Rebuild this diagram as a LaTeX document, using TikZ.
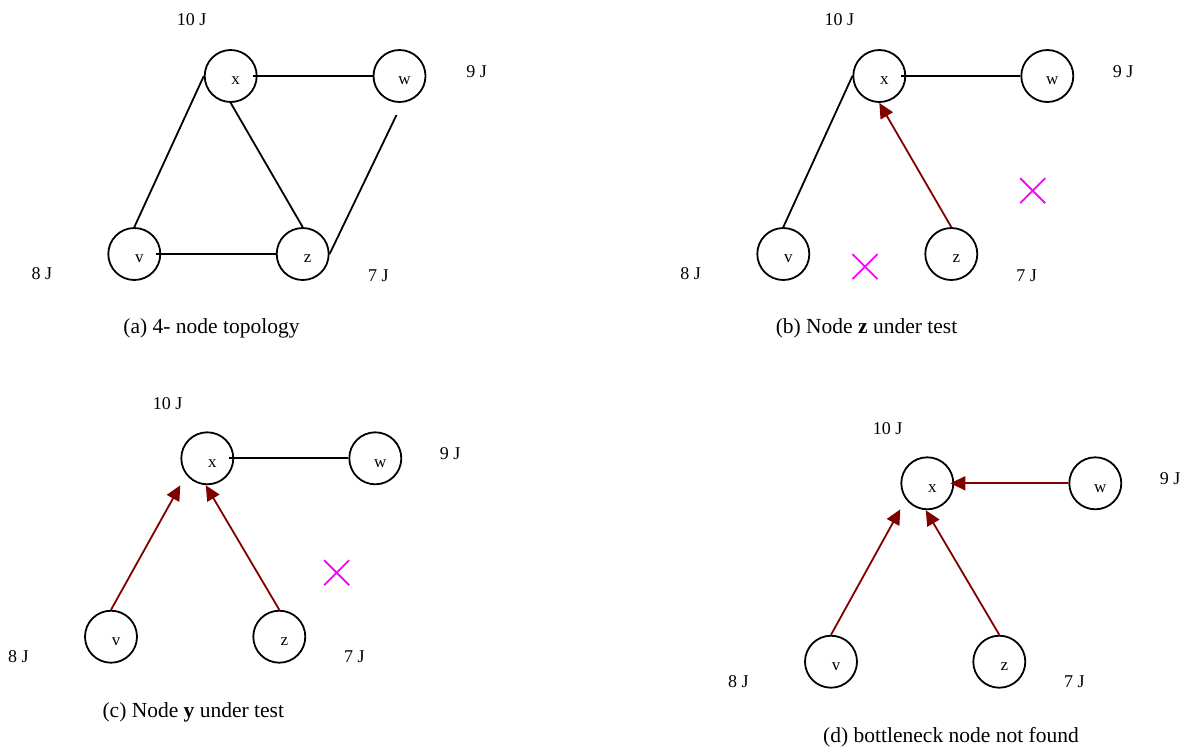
\documentclass[tikz,border=0pt]{standalone}
\usepackage{fontspec}
\setmainfont{Liberation Serif}
\usetikzlibrary{arrows.meta}
\definecolor{arr}{HTML}{800000}
\definecolor{mag}{HTML}{FF00FF}
\begin{document}
\begin{tikzpicture}[x=1pt,y=-1pt,
  circ/.style={circle,draw,line width=1.8pt,minimum size=52pt,inner sep=0pt,
    label={[font=\fontsize{17}{19}\selectfont,xshift=5pt,yshift=-5pt]center:#1}},
  plainedge/.style={line width=1.8pt},
  flow/.style={line width=1.8pt,draw=arr,-{Triangle[length=15pt,width=14pt,fill=arr]}},
  lbl/.style={font=\fontsize{18}{20}\selectfont,inner sep=0pt},
  captext/.style={font=\fontsize{21.5}{24}\selectfont,inner sep=0pt},
  crossmark/.style={line width=1.8pt,draw=mag}]
\useasboundingbox (0,0) rectangle (1188,748);
% ---------- (a)
\node[circ=x] (ax) at (230.7,76) {};
\node[circ=w] (aw) at (399.5,76) {};
\node[circ=v] (av) at (134.3,254) {};
\node[circ=z] (az) at (302.7,254) {};
\draw[plainedge] ([xshift=22pt]ax.center) -- (aw.west);
\draw[plainedge] (ax.west) -- (av.north);
\draw[plainedge] (ax.south) -- (az.north);
\draw[plainedge] ([xshift=22pt]av.center) -- (az.west);
\coordinate (awe) at ([shift={(-3,39)}]aw.center);
\draw[plainedge] (az.east) -- (awe);
\node[lbl] (a10) at (191.7,20) {10 J};
\node[lbl] (a9) at (476.7,72) {9 J};
\node[lbl] (a8) at (42,274) {8 J};
\node[lbl] (a7) at (378.3,276) {7 J};
\node[captext] (acap) at (211.5,328) {(a) 4- node topology};
% ---------- (b)
\node[circ=x] (bx) at (879.3,76) {};
\node[circ=w] (bw) at (1047.3,76) {};
\node[circ=v] (bv) at (783.3,254) {};
\node[circ=z] (bz) at (951.3,254) {};
\draw[plainedge] ([xshift=22pt]bx.center) -- (bw.west);
\draw[plainedge] (bx.west) -- (bv.north);
\draw[flow] (bz.north) -- (bx.south);
\node[lbl] (b10) at (839.3,20) {10 J};
\node[lbl] (b9) at (1123,72) {9 J};
\node[lbl] (b8) at (690.5,274) {8 J};
\node[lbl] (b7) at (1026.7,276) {7 J};
\node[captext] (bcap) at (866.5,328) {(b) Node \textbf{z} under test};
\coordinate (bc1) at (1032.7,190.7);
\coordinate (bc2) at (865,266.7);
\draw[crossmark] ([shift={(-12.5,-12.5)}]bc1) -- ([shift={(12.5,12.5)}]bc1)
                 ([shift={(-12.5,12.5)}]bc1) -- ([shift={(12.5,-12.5)}]bc1);
\draw[crossmark] ([shift={(-12.5,-12.5)}]bc2) -- ([shift={(12.5,12.5)}]bc2)
                 ([shift={(-12.5,12.5)}]bc2) -- ([shift={(12.5,-12.5)}]bc2);
% ---------- (c)
\node[circ=x] (cx) at (207.3,458.3) {};
\node[circ=w] (cw) at (375.3,458.3) {};
\node[circ=v] (cv) at (111,636.7) {};
\node[circ=z] (cz) at (279.3,636.7) {};
\draw[plainedge] ([xshift=22pt]cx.center) -- (cw.west);
\draw[flow] (cv.north) -- ([shift={(-27,27)}]cx.center);
\draw[flow] (cz.north) -- ([shift={(-1.5,27)}]cx.center);
\node[lbl] (c10) at (167.7,403.3) {10 J};
\node[lbl] (c9) at (450,453.3) {9 J};
\node[lbl] (c8) at (18.3,656.7) {8 J};
\node[lbl] (c7) at (354.3,656.7) {7 J};
\node[captext] (ccap) at (193.3,712) {(c) Node \textbf{y} under test};
\coordinate (cc1) at (336.7,572.7);
\draw[crossmark] ([shift={(-12.5,-12.5)}]cc1) -- ([shift={(12.5,12.5)}]cc1)
                 ([shift={(-12.5,12.5)}]cc1) -- ([shift={(12.5,-12.5)}]cc1);
% ---------- (d)
\node[circ=x] (dx) at (927.3,483.3) {};
\node[circ=w] (dw) at (1095.3,483.3) {};
\node[circ=v] (dv) at (831,661.7) {};
\node[circ=z] (dz) at (999.3,661.7) {};
\draw[flow] (dw.west) -- ([xshift=23pt]dx.center);
\draw[flow] (dv.north) -- ([shift={(-27,26)}]dx.center);
\draw[flow] (dz.north) -- ([shift={(-1.5,27)}]dx.center);
\node[lbl] (d10) at (887.7,428.3) {10 J};
\node[lbl] (d9) at (1170,478.3) {9 J};
\node[lbl] (d8) at (738.3,681.7) {8 J};
\node[lbl] (d7) at (1074.3,681.7) {7 J};
\node[captext] (dcap) at (951,737) {(d) bottleneck node not found};
\end{tikzpicture}
\end{document}
